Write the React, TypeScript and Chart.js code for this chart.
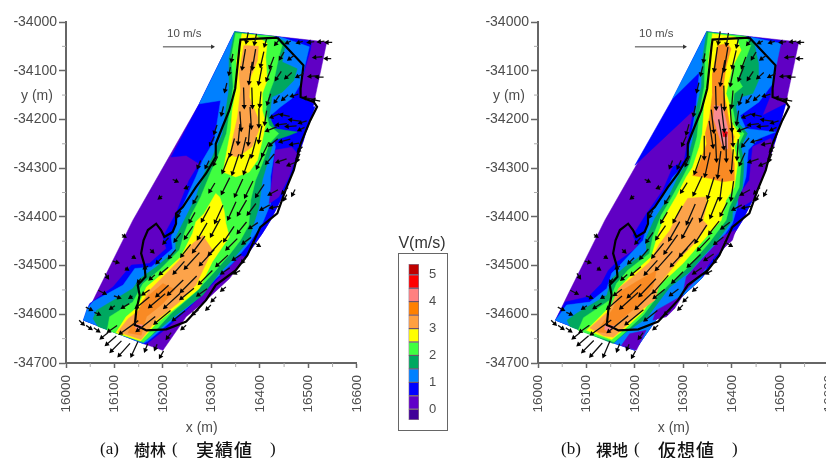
import React, { useEffect, useRef } from "react";
import { Chart, registerables } from "chart.js";
Chart.register(...registerables);

type P = [number, number];

const xTicks = [16000, 16100, 16200, 16300, 16400, 16500, 16600];
const yTicks = [-34000, -34100, -34200, -34300, -34400, -34500, -34600, -34700];
const xMinor = [16050, 16150, 16250, 16350, 16450, 16550];
const yMinor = [-34050, -34150, -34250, -34350, -34450, -34550, -34650];

const VIOLET = "#6000c4", BLUE = "#0000ff", AZURE = "#0080ff", GREEN = "#00a860", LIME = "#40ff40",
  YELLOW = "#ffff00", LORANGE = "#fca34a", ORANGE = "#f98a24", PINK = "#f88a90", RED = "#e80010";

const domain: P[] = [[16348,-34020],[16538,-34041],[16511,-34168],[16490,-34243],[16466,-34311],[16446,-34359],[16422,-34407],[16405,-34434],[16371,-34482],[16337,-34527],[16289,-34571],[16248,-34605],[16200,-34674],[16159,-34660],[16036,-34612],[16063,-34557],[16138,-34407],[16193,-34311],[16275,-34168]];

const bank: P[] = [[16436,-34032],[16360,-34036],[16358,-34051],[16349,-34137],[16337,-34181],[16323,-34215],[16309,-34250],[16309,-34277],[16289,-34311],[16268,-34339],[16241,-34380],[16227,-34393],[16227,-34414],[16220,-34431],[16203,-34441],[16196,-34427],[16186,-34414],[16169,-34427],[16160,-34448],[16155,-34475],[16162,-34499],[16164,-34523],[16148,-34540],[16152,-34561],[16145,-34592],[16142,-34622],[16152,-34626],[16166,-34633],[16207,-34631],[16248,-34615],[16289,-34571],[16309,-34540],[16350,-34510],[16374,-34479],[16401,-34421],[16436,-34393],[16453,-34345],[16470,-34304],[16484,-34250],[16504,-34202],[16518,-34174],[16511,-34164],[16484,-34154],[16484,-34137],[16490,-34089],[16436,-34032]];

// (a) forest
const aBlue: P[] = [[16348,-34020],[16275,-34168],[16217,-34277],[16248,-34274],[16275,-34291],[16254,-34325],[16227,-34393],[16200,-34441],[16207,-34465],[16172,-34496],[16135,-34499],[16097,-34544],[16049,-34578],[16044,-34588],[16036,-34612],[16159,-34660],[16166,-34661],[16207,-34629],[16248,-34592],[16289,-34551],[16330,-34510],[16360,-34479],[16371,-34482],[16405,-34434],[16422,-34407],[16446,-34359],[16466,-34311],[16490,-34243],[16511,-34168],[16484,-34154],[16484,-34127],[16504,-34058],[16507,-34039]];
const aAzure: P[] = [[16348,-34020],[16275,-34168],[16319,-34161],[16306,-34243],[16282,-34284],[16268,-34318],[16237,-34386],[16217,-34441],[16220,-34465],[16176,-34503],[16142,-34506],[16118,-34540],[16056,-34574],[16044,-34588],[16036,-34612],[16159,-34660],[16169,-34655],[16220,-34612],[16268,-34571],[16309,-34527],[16343,-34496],[16377,-34455],[16405,-34414],[16422,-34373],[16422,-34318],[16432,-34256],[16425,-34222],[16422,-34192],[16443,-34174],[16466,-34157],[16484,-34127],[16502,-34051],[16446,-34032]];
const aPatchViolet: P[] = [[16432,-34263],[16466,-34257],[16477,-34270],[16460,-34318],[16439,-34359],[16419,-34373],[16425,-34325]];
const aPatchBlue: P[] = [[16460,-34171],[16514,-34174],[16497,-34222],[16466,-34219],[16432,-34202]];
const aGreen: P[] = [[16348,-34020],[16337,-34072],[16337,-34133],[16330,-34181],[16323,-34229],[16302,-34277],[16285,-34311],[16268,-34359],[16244,-34407],[16227,-34441],[16227,-34468],[16186,-34503],[16152,-34527],[16138,-34547],[16063,-34592],[16056,-34609],[16066,-34625],[16159,-34658],[16186,-34636],[16227,-34602],[16282,-34561],[16316,-34516],[16343,-34489],[16377,-34448],[16398,-34380],[16405,-34325],[16419,-34277],[16429,-34243],[16460,-34233],[16477,-34226],[16432,-34219],[16419,-34195],[16425,-34154],[16446,-34144],[16470,-34120],[16477,-34096],[16446,-34082],[16453,-34041],[16436,-34032]];
const aLime: P[] = [[16350,-34023],[16341,-34072],[16345,-34133],[16338,-34181],[16331,-34229],[16313,-34277],[16299,-34308],[16278,-34359],[16258,-34397],[16244,-34434],[16234,-34468],[16193,-34509],[16159,-34537],[16138,-34575],[16090,-34605],[16085,-34633],[16160,-34657],[16176,-34643],[16217,-34598],[16268,-34554],[16306,-34513],[16337,-34478],[16360,-34448],[16377,-34417],[16381,-34366],[16391,-34325],[16405,-34291],[16419,-34250],[16439,-34229],[16419,-34212],[16412,-34181],[16419,-34147],[16429,-34120],[16439,-34072],[16446,-34048],[16429,-34029]];
const aYellowUp: P[] = [[16363,-34024],[16352,-34079],[16352,-34133],[16343,-34181],[16340,-34222],[16331,-34270],[16324,-34308],[16350,-34318],[16378,-34308],[16395,-34284],[16405,-34243],[16412,-34209],[16405,-34181],[16405,-34147],[16415,-34120],[16412,-34072],[16415,-34044],[16391,-34027]];
const aYellowLow: P[] = [[16309,-34352],[16285,-34393],[16268,-34410],[16261,-34434],[16237,-34482],[16200,-34516],[16166,-34544],[16148,-34585],[16124,-34605],[16103,-34638],[16154,-34655],[16186,-34619],[16234,-34581],[16275,-34547],[16302,-34492],[16337,-34441],[16330,-34414],[16326,-34386],[16317,-34359]];
const aOrangeUp: P[] = [[16367,-34048],[16357,-34106],[16360,-34140],[16354,-34195],[16343,-34243],[16340,-34274],[16354,-34277],[16384,-34256],[16398,-34222],[16395,-34195],[16378,-34154],[16381,-34113],[16395,-34079],[16397,-34050]];
const aOrangeLow: P[] = [[16282,-34438],[16261,-34455],[16234,-34489],[16200,-34523],[16169,-34554],[16152,-34591],[16128,-34609],[16107,-34636],[16155,-34652],[16186,-34612],[16234,-34575],[16268,-34540],[16302,-34468]];
const aDeep: P[] = [[16200,-34537],[16225,-34549],[16200,-34578],[16166,-34605],[16155,-34643],[16128,-34638],[16142,-34609],[16159,-34571]];
const aPink: P[] = [[16142,-34620],[16159,-34622],[16152,-34631],[16144,-34629]];

// (b) bare ground
const bBlue: P[] = [[16348,-34020],[16278,-34157],[16200,-34294],[16321,-34181],[16309,-34243],[16302,-34284],[16278,-34298],[16258,-34345],[16224,-34393],[16196,-34438],[16207,-34462],[16162,-34493],[16145,-34510],[16131,-34537],[16104,-34564],[16056,-34575],[16036,-34612],[16159,-34660],[16200,-34674],[16248,-34605],[16289,-34571],[16337,-34527],[16371,-34482],[16405,-34434],[16422,-34407],[16446,-34359],[16466,-34311],[16490,-34243],[16511,-34168],[16463,-34192],[16480,-34150],[16487,-34085],[16504,-34039]];
const bAzure: P[] = [[16348,-34020],[16278,-34157],[16333,-34103],[16326,-34174],[16316,-34236],[16306,-34291],[16278,-34318],[16258,-34359],[16231,-34393],[16217,-34448],[16169,-34499],[16152,-34516],[16142,-34547],[16107,-34575],[16059,-34581],[16036,-34612],[16159,-34660],[16172,-34664],[16200,-34674],[16248,-34605],[16289,-34571],[16337,-34527],[16367,-34462],[16401,-34414],[16415,-34366],[16429,-34318],[16434,-34263],[16456,-34239],[16490,-34226],[16429,-34219],[16417,-34192],[16456,-34164],[16484,-34127],[16501,-34044],[16443,-34032]];
const bPatch1: P[] = [[16443,-34256],[16480,-34239],[16487,-34253],[16466,-34311],[16443,-34366],[16415,-34383],[16412,-34359],[16436,-34325]];
const bPatch2: P[] = [[16343,-34482],[16384,-34438],[16408,-34427],[16401,-34448],[16364,-34482],[16333,-34523],[16299,-34557],[16306,-34523]];
const bPatch3: P[] = [[16244,-34592],[16299,-34561],[16282,-34588],[16265,-34605],[16237,-34612]];
const bPatch4: P[] = [[16172,-34664],[16189,-34640],[16223,-34633],[16203,-34674]];
const bGreen: P[] = [[16348,-34020],[16340,-34072],[16337,-34133],[16326,-34181],[16319,-34243],[16306,-34291],[16289,-34318],[16268,-34362],[16241,-34403],[16224,-34441],[16224,-34472],[16179,-34503],[16152,-34527],[16142,-34561],[16080,-34598],[16060,-34612],[16066,-34625],[16155,-34660],[16183,-34636],[16224,-34608],[16272,-34544],[16313,-34513],[16340,-34482],[16371,-34448],[16401,-34407],[16401,-34393],[16422,-34339],[16425,-34291],[16419,-34256],[16432,-34229],[16415,-34209],[16408,-34174],[16419,-34154],[16443,-34147],[16455,-34120],[16455,-34085],[16446,-34044],[16436,-34032]];
const bLime: P[] = [[16352,-34022],[16345,-34072],[16343,-34133],[16334,-34181],[16328,-34236],[16313,-34291],[16299,-34318],[16275,-34362],[16254,-34397],[16237,-34441],[16230,-34475],[16186,-34509],[16162,-34537],[16148,-34571],[16094,-34607],[16083,-34633],[16157,-34657],[16176,-34640],[16217,-34602],[16248,-34561],[16272,-34537],[16306,-34507],[16333,-34476],[16354,-34452],[16388,-34407],[16395,-34380],[16415,-34339],[16419,-34291],[16412,-34256],[16425,-34229],[16408,-34212],[16401,-34174],[16405,-34147],[16422,-34133],[16412,-34116],[16425,-34085],[16439,-34048],[16429,-34029]];
const bYellow: P[] = [[16360,-34024],[16352,-34079],[16350,-34133],[16343,-34168],[16339,-34229],[16333,-34256],[16319,-34298],[16306,-34318],[16285,-34359],[16261,-34400],[16248,-34434],[16234,-34482],[16196,-34516],[16169,-34544],[16155,-34578],[16100,-34633],[16152,-34652],[16179,-34630],[16217,-34595],[16251,-34540],[16299,-34496],[16326,-34465],[16354,-34434],[16378,-34407],[16388,-34366],[16405,-34339],[16412,-34291],[16405,-34256],[16417,-34233],[16401,-34209],[16395,-34168],[16388,-34147],[16401,-34092],[16419,-34058],[16408,-34031]];
const bOrangeUp: P[] = [[16371,-34048],[16360,-34106],[16360,-34147],[16354,-34195],[16345,-34229],[16348,-34250],[16333,-34291],[16319,-34315],[16354,-34321],[16381,-34328],[16405,-34325],[16405,-34291],[16398,-34256],[16405,-34236],[16395,-34209],[16388,-34168],[16381,-34140],[16388,-34092],[16398,-34055],[16391,-34044]];
const bOrangeLow: P[] = [[16309,-34362],[16285,-34400],[16272,-34428],[16251,-34455],[16230,-34493],[16196,-34523],[16166,-34547],[16148,-34591],[16107,-34628],[16135,-34644],[16155,-34647],[16179,-34626],[16217,-34588],[16241,-34571],[16251,-34537],[16265,-34520],[16299,-34479],[16326,-34451],[16350,-34417],[16340,-34407],[16347,-34380],[16347,-34359]];
const bDeep: P[] = [[16203,-34533],[16244,-34510],[16237,-34544],[16217,-34575],[16169,-34612],[16148,-34639],[16121,-34636],[16155,-34588],[16169,-34554]];
const bPinkUp: P[] = [[16364,-34171],[16381,-34174],[16391,-34215],[16391,-34260],[16382,-34260],[16371,-34226],[16362,-34198]];
const bPinkLow: P[] = [[16138,-34622],[16159,-34624],[16148,-34636],[16137,-34631]];
const bRed: P[] = [[16381,-34224],[16391,-34226],[16389,-34236],[16382,-34235]];

const layersA: [P[], string][] = [[domain, VIOLET],[aBlue, BLUE],[aAzure, AZURE],[aPatchViolet, VIOLET],[aPatchBlue, BLUE],[aGreen, GREEN],[aLime, LIME],[aYellowUp, YELLOW],[aYellowLow, YELLOW],[aOrangeUp, LORANGE],[aOrangeLow, LORANGE],[aDeep, ORANGE],[aPink, PINK]];
const layersB: [P[], string][] = [[domain, VIOLET],[bBlue, BLUE],[bAzure, AZURE],[bPatch1, VIOLET],[bPatch2, VIOLET],[bPatch3, VIOLET],[bPatch4, VIOLET],[bGreen, GREEN],[bLime, LIME],[bYellow, YELLOW],[bOrangeUp, ORANGE],[bOrangeLow, LORANGE],[bDeep, ORANGE],[bPinkUp, PINK],[bPinkLow, PINK],[bRed, RED]];

// x, y, u and v in forest case, u and v in bare-ground case
const vectorsUpper: number[][] = [
[16374,-34031,-.3,-1.5,-.3,-1.8],[16391,-34034,-.3,-1.5,-.3,-1.8],[16412,-34041,-.3,-1,-.3,-1.3],[16436,-34041,-.5,-.6,-.5,-.6],[16460,-34041,-.6,-.3,-.6,-.3],[16484,-34041,-.7,-.2,-.7,-.2],[16507,-34041,-.8,-.1,-.8,-.1],[16528,-34040,-.8,-.1,-.8,-.1],[16544,-34042,-.8,0,-.8,0],
[16343,-34072,-.2,-1,-.2,-1.2],[16367,-34075,-.5,-3,-.5,-3.6],[16388,-34075,-.5,-3,-.6,-3.6],[16405,-34075,-.5,-2.2,-.6,-2.6],[16425,-34082,-.6,-1.6,-.6,-1.6],[16446,-34068,-.6,-1,-.6,-1],[16466,-34072,-.8,-.6,-.8,-.6],[16521,-34072,-1.2,-.1,-1.2,-.1],[16542,-34075,-.8,0,-.8,0],
[16338,-34099,-.2,-1,-.3,-1.2],[16381,-34103,-.5,-3.3,-.7,-3.8],[16401,-34109,-.5,-2.5,-.6,-3],[16419,-34106,-.7,-1.8,-.7,-1.8],[16439,-34109,-.8,-1.2,-.8,-1.2],[16460,-34109,-.9,-.8,-.9,-.8],[16484,-34109,-1,-.5,-1,-.5],[16511,-34111,-1.2,-.1,-1.2,-.1],[16525,-34113,-1,0,-1,0],
[16330,-34133,-.3,-1.2,-.3,-1.3],[16367,-34154,.1,-3,.1,-3.5],[16384,-34154,.1,-3,.1,-3.6],[16401,-34157,-.2,-2.2,-.2,-2.5],[16419,-34157,-.5,-1.5,-.5,-1.5],[16436,-34157,-.7,-1,-.7,-1],[16453,-34154,-.8,-.7,-.8,-.7],[16473,-34150,-1,-.3,-1,-.3],[16501,-34157,-1.2,.2,-1.2,.2],[16518,-34161,-1,.2,-1,.2],
[16323,-34181,-.3,-1.2,-.3,-1.4],[16360,-34202,.2,-2.8,.4,-3.4],[16381,-34195,.2,-3.2,.5,-4.2],[16398,-34195,0,-2.8,.3,-4],[16412,-34195,-.3,-2,-.3,-2],[16432,-34192,-1.2,-.5,-1.2,-.5],[16453,-34192,-1.3,.3,-1.3,.3],[16473,-34202,-1.5,.2,-1.5,.2],[16490,-34205,-1,-.3,-1,-.3],
[16309,-34219,-.4,-1.2,-.4,-1.4],[16357,-34229,-.3,-3,.6,-4],[16378,-34229,-.3,-3.2,.8,-4.5],[16401,-34229,-.5,-2.5,.2,-3.5],[16425,-34219,-1.5,-.6,-1.5,-.6],[16446,-34210,-1.5,-.2,-1.5,-.2],[16466,-34214,-1.5,-.1,-1.5,-.1],[16487,-34219,-.8,-.4,-.8,-.4],
[16302,-34243,-.6,-1.2,-.6,-1.3],[16343,-34256,-.7,-2.6,0,-3.5],[16367,-34256,-.7,-3,.2,-4.2],[16388,-34256,-.8,-3,.1,-4.2],[16412,-34260,-1,-2,-.2,-3],[16429,-34246,-1.2,-1,-1,-1.2],[16453,-34243,-1.5,-.4,-1.5,-.4],[16473,-34250,-1.2,-.2,-1.2,-.2],[16484,-34260,-.6,-.6,-.6,-.6],
[16275,-34291,-.4,-1,-.4,-1],[16292,-34291,-.5,-1,-.5,-1.1],[16309,-34284,-.6,-1.2,-.6,-1.4],[16330,-34291,-1,-2.5,-1,-2.8],[16350,-34291,-1,-3,-.8,-3.6],[16374,-34291,-1,-2.8,-.5,-4],[16401,-34284,-1,-2.2,-.3,-3.5],[16422,-34280,-1.2,-1.4,-.8,-1.8],[16446,-34284,-1.4,-.5,-1.4,-.5],[16466,-34291,-1,-.4,-1,-.4],[16480,-34277,-.4,-1,-.4,-1],
[16224,-34325,.6,-.3,.6,-.3],[16251,-34339,-.5,-.2,-.5,-.2],[16302,-34339,-.8,-1.3,-.9,-1.4],[16330,-34335,-1.2,-2.4,-1.3,-2.8],[16357,-34339,-1.2,-2.6,-1,-3.2],[16378,-34342,-1.2,-2.4,-.4,-3.2],[16401,-34345,-1.2,-1.8,-.4,-2.8],[16429,-34349,-1.3,-.7,-1.3,-.7],[16453,-34345,-.8,-.8,-.8,-.8],[16470,-34349,-.4,-.8,-.4,-.8],[16268,-34363,-.6,-1,-.7,-1.1],
[16196,-34359,-.4,-.3,-.4,-.3],[16234,-34393,-.5,-.8,-.5,-.9],[16261,-34400,-.8,-1.4,-.9,-1.5],[16289,-34393,-1.2,-2.2,-1.3,-2.4],[16316,-34393,-1.2,-2.6,-1.3,-3],[16343,-34386,-1.2,-2.6,-1.2,-3.2],[16364,-34380,-1.3,-2.2,-1.2,-3],[16384,-34383,-1.2,-1.6,-1,-1.9],[16412,-34380,-1.3,-.7,-1.3,-.7],[16432,-34380,-1.2,-.2,-1.2,-.2],[16453,-34359,-.4,-.7,-.4,-.7],
];
const vectorsLower: number[][] = [
[16118,-34438,.4,-.3,.4,-.3],[16176,-34469,.4,-.4,.4,-.4],[16207,-34448,-.7,-.8,-.7,-.8],[16231,-34441,-.9,-1.2,-1,-1.4],[16254,-34431,-1.2,-1.8,-1.4,-2],[16282,-34428,-1.4,-2.4,-1.6,-2.8],[16309,-34421,-1.4,-2.6,-1.6,-3],[16337,-34434,-1.5,-2.2,-1.7,-2.6],[16364,-34421,-1.3,-1.6,-1.5,-1.9],[16388,-34417,-1.2,-.8,-1.2,-.9],
[16101,-34492,.7,-.2,.7,-.2],[16138,-34482,.3,-.2,.3,-.2],[16166,-34503,-.5,-.3,-.5,-.3],[16193,-34489,-.7,-.7,-.8,-.8],[16220,-34475,-1,-1.2,-1.2,-1.4],[16248,-34468,-1.4,-1.8,-1.7,-2.1],[16275,-34455,-1.8,-2.4,-2,-2.8],[16309,-34462,-2,-2.2,-2.3,-2.6],[16343,-34455,-1.6,-1.6,-1.8,-1.9],[16374,-34448,-1.2,-.9,-1.3,-1],[16391,-34455,1,-.6,1,-.6],
[16083,-34520,.4,-.6,.4,-.6],[16124,-34506,.3,-.2,.3,-.2],[16152,-34530,-.4,-.5,-.4,-.5],[16179,-34523,-.7,-.6,-.8,-.7],[16203,-34510,-1.2,-1,-1.4,-1.2],[16234,-34503,-1.6,-1.8,-1.9,-2.1],[16261,-34489,-2.2,-2.4,-2.5,-2.8],[16292,-34482,-2.2,-2.4,-2.5,-2.7],[16323,-34489,-1.7,-1.6,-1.9,-1.8],[16354,-34482,-1.2,-.8,-1.3,-.9],[16367,-34489,-.4,-.5,-.4,-.5],
[16073,-34554,1,-.5,1,-.5],[16104,-34564,.8,-.3,.8,-.3],[16135,-34564,-.3,-.2,-.3,-.2],[16166,-34554,-1,-.7,-1.1,-.8],[16200,-34551,-1.8,-1.6,-2,-1.9],[16227,-34544,-2.3,-2.2,-2.5,-2.6],[16254,-34537,-2.4,-2.4,-2.3,-2.6],[16289,-34523,-2,-2,-1.6,-1.6],[16330,-34510,-1.2,-.8,-1.2,-.8],[16354,-34513,-.8,-.4,-.8,-.4],
[16046,-34588,.8,-.4,.8,-.4],[16063,-34598,.7,-.3,.7,-.3],[16097,-34585,-.6,-.4,-.6,-.4],[16124,-34582,-1,-.6,-1.1,-.7],[16159,-34575,-2,-1.6,-2.2,-1.9],[16189,-34571,-2.4,-2,-2.7,-2.4],[16220,-34571,-2.4,-2.2,-2.6,-2.5],[16251,-34557,-2,-1.6,-1.6,-1.3],[16282,-34554,-1.4,-1,-1.2,-.9],[16306,-34568,-.6,-.6,-.6,-.6],[16326,-34547,-.6,-.5,-.6,-.5],
[16097,-34629,-1.3,-.9,-1.4,-1],[16131,-34626,-2.8,-2,-3.1,-2.2],[16166,-34619,-2.8,-2.2,-3.1,-2.5],[16200,-34605,-2.4,-2,-2.7,-2.2],[16234,-34602,-1.8,-1.4,-1.9,-1.5],[16268,-34595,-.8,-.6,-.8,-.6],[16295,-34585,-.6,-.6,-.6,-.6],[16213,-34643,-.6,-.8,-.6,-.8],[16244,-34626,-.6,-.5,-.6,-.5],
[16031,-34616,.6,-.6,.6,-.6],[16046,-34626,.7,-.5,.7,-.5],[16062,-34631,.7,-.5,.7,-.5],[16080,-34643,-1,-.8,-1,-.8],[16094,-34653,-1.5,-1.3,-1.6,-1.4],[16104,-34665,-1.6,-1.6,-1.7,-1.7],[16121,-34672,-1.7,-1.9,-1.8,-2],[16142,-34670,-1,-2.2,-1,-2.3],[16166,-34667,-.4,-1,-.4,-1],[16186,-34666,-.3,-.7,-.3,-.7],[16198,-34681,-.5,-.9,-.5,-.9],
];
const metresPerSpeed = 13;
const refArrowStart: P = [16200, -34051];
const refArrowEnd: P = [16302, -34051];

const legendBounds = [-0.4, 0, 0.5, 1, 1.5, 2, 2.5, 3, 3.5, 4, 4.5, 5, 5.4];
const legendColors = ["#400098", "#6000c8", "#0000ff", "#0080ff", "#00a860", "#40ff40", "#ffff00", "#ffa040", "#ff8000", "#ff8080", "#ff0000", "#c00000"];
const legendTicks = [0, 1, 2, 3, 4, 5];

const SANS = "'Liberation Sans', Arial, sans-serif";
const AXIS = "#666666";
const TEXT = "#4c4c4c";

const annotate = {
  id: "annotate",
  afterDraw(chart: any) {
    const { ctx, scales: { x, y }, chartArea: a } = chart;
    ctx.save();
    ctx.strokeStyle = "#aaaaaa"; ctx.lineWidth = 1;
    ctx.beginPath();
    xMinor.forEach((v) => { const p = x.getPixelForValue(v); ctx.moveTo(p, a.bottom); ctx.lineTo(p, a.bottom + 4); });
    yMinor.forEach((v) => { const p = y.getPixelForValue(v); ctx.moveTo(a.left, p); ctx.lineTo(a.left - 4, p); });
    ctx.stroke();
    ctx.fillStyle = TEXT; ctx.textAlign = "center"; ctx.textBaseline = "middle";
    ctx.font = `14px ${SANS}`;
    ctx.fillText("y (m)", a.left - 29, y.getPixelForValue(-34153));
    ctx.fillText("x (m)", x.getPixelForValue(16280), a.bottom + 65);
    ctx.font = `11.5px ${SANS}`;
    ctx.fillText("10 m/s", x.getPixelForValue(16244), y.getPixelForValue(-34024));
    ctx.restore();
  },
};

function buildField(pick: (r: number[]) => [number, number]) {
  const shafts: any[] = [], heads: any[] = [], rots: number[] = [];
  [...vectorsUpper, ...vectorsLower].forEach((r) => {
    const [u, v] = pick(r);
    const dx = (u * metresPerSpeed) / 2, dy = (v * metresPerSpeed) / 2;
    shafts.push({ x: r[0] - dx, y: r[1] - dy }, { x: r[0] + dx, y: r[1] + dy }, { x: null, y: null });
    heads.push({ x: r[0] + dx, y: r[1] + dy });
    rots.push((Math.atan2(u, v) * 180) / Math.PI);
  });
  return { shafts, heads, rots };
}

function plotConfig(layers: [P[], string][], pick: (r: number[]) => [number, number]): any {
  const f = buildField(pick);
  const datasets: any[] = layers.map(([pts, c]) => ({
    type: "scatter",
    data: [...pts, pts[0]].map(([x, y]) => ({ x, y })),
    showLine: true, fill: "shape", backgroundColor: c, borderColor: c, borderWidth: 0.5, pointRadius: 0, tension: 0,
  }));
  datasets.push({ type: "scatter", data: bank.map(([x, y]) => ({ x, y })), showLine: true, fill: false, borderColor: "#000", borderWidth: 2.2, pointRadius: 0 });
  datasets.push({ type: "scatter", data: f.shafts, showLine: true, fill: false, spanGaps: false, borderColor: "#111", borderWidth: 1.3, pointRadius: 0 });
  datasets.push({ type: "scatter", data: f.heads, showLine: false, pointStyle: "triangle", pointRadius: 3, pointBorderWidth: 0, pointBackgroundColor: "#000", pointRotation: f.rots });
  datasets.push({ type: "scatter", data: [refArrowStart, refArrowEnd].map(([x, y]) => ({ x, y })), showLine: true, fill: false, borderColor: "#444", borderWidth: 1, pointRadius: 0 });
  datasets.push({ type: "scatter", data: [{ x: refArrowEnd[0], y: refArrowEnd[1] }], showLine: false, pointStyle: "triangle", pointRadius: 2.6, pointBorderWidth: 0, pointBackgroundColor: "#333", pointRotation: 90 });
  datasets.forEach((d, i) => { d.order = -i; });
  return {
    type: "scatter",
    data: { datasets },
    plugins: [annotate],
    options: {
      animation: false, responsive: false,
      layout: { autoPadding: false, padding: { left: 0, right: 22, top: 22, bottom: 0 } },
      plugins: { legend: { display: false }, tooltip: { enabled: false }, title: { display: false } },
      scales: {
        x: {
          type: "linear", min: 16000, max: 16600, afterBuildTicks: (s: any) => { s.ticks = xTicks.map((value) => ({ value })); },
          afterFit: (s: any) => { s.height = 95; },
          border: { color: AXIS, width: 2 },
          grid: { drawOnChartArea: false, drawTicks: true, tickLength: 5, tickColor: AXIS, tickWidth: 1.5 },
          ticks: { color: TEXT, font: { family: SANS, size: 13.5 }, minRotation: 90, maxRotation: 90, padding: 7, autoSkip: false, callback: (v: number) => String(v) },
        },
        y: {
          type: "linear", min: -34700, max: -34000, afterBuildTicks: (s: any) => { s.ticks = yTicks.map((value) => ({ value })); },
          afterFit: (s: any) => { s.width = 66; },
          border: { color: AXIS, width: 2 },
          grid: { drawOnChartArea: false, drawTicks: true, tickLength: 7, tickColor: AXIS, tickWidth: 1.5 },
          ticks: { color: TEXT, font: { family: SANS, size: 14 }, padding: 2, autoSkip: false, callback: (v: number) => String(v) },
        },
      },
    },
  };
}

function legendConfig(): any {
  return {
    type: "bar",
    data: {
      labels: ["V"],
      datasets: legendColors.map((c, i) => ({ data: [[legendBounds[i], legendBounds[i + 1]]], backgroundColor: c, borderColor: "rgba(40,0,40,0.55)", borderWidth: 1, borderSkipped: false, grouped: false, barPercentage: 1, categoryPercentage: 1 })),
    },
    options: {
      animation: false, responsive: false,
      layout: { autoPadding: false, padding: { left: 23.5, right: 0, top: 24, bottom: 20 } },
      plugins: { legend: { display: false }, tooltip: { enabled: false } },
      scales: {
        x: { display: false },
        y: {
          position: "right", min: legendBounds[0], max: legendBounds[legendBounds.length - 1],
          afterBuildTicks: (s: any) => { s.ticks = legendTicks.map((value) => ({ value })); },
          afterFit: (s: any) => { s.width = 41; },
          border: { display: false }, grid: { display: false, drawTicks: false },
          ticks: { color: TEXT, font: { family: SANS, size: 13 }, padding: 10, autoSkip: false },
        },
      },
    },
  };
}

const abs = (left: number, top: number, extra: any = {}): any => ({ position: "absolute", left, top, ...extra });
const CJK = "'Noto Sans CJK JP', sans-serif";
const SERIF = "'Liberation Serif', serif";

function Caption({ left, tag, a, b, gap }: { left: number; tag: string; a: string; b: string; gap: number }) {
  const base: any = { position: "absolute", top: 0, color: "#111", whiteSpace: "pre", lineHeight: "20px" };
  return (
    <div style={abs(left, 439, { width: 200, height: 20 })}>
      <span style={{ ...base, left: 0, fontFamily: SERIF, fontSize: 17 }}>{tag}</span>
      <span style={{ ...base, left: gap, fontFamily: CJK, fontSize: 16, fontWeight: 500 }}>{a}</span>
      <span style={{ ...base, left: gap + 38, fontFamily: SERIF, fontSize: 17 }}>(</span>
      <span style={{ ...base, left: gap + 62, fontFamily: CJK, fontSize: 18, letterSpacing: 1, fontWeight: 500 }}>{b}</span>
      <span style={{ ...base, left: gap + 136, fontFamily: SERIF, fontSize: 17 }}>)</span>
    </div>
  );
}

export default function App() {
  const leftRef = useRef<HTMLCanvasElement>(null);
  const rightRef = useRef<HTMLCanvasElement>(null);
  const legendRef = useRef<HTMLCanvasElement>(null);
  useEffect(() => {
    const charts = [
      new Chart(leftRef.current!, plotConfig(layersA, (r) => [r[2], r[3]])),
      new Chart(rightRef.current!, plotConfig(layersB, (r) => [r[4], r[5]])),
      new Chart(legendRef.current!, legendConfig()),
    ];
    return () => charts.forEach((c) => c.destroy());
  }, []);
  const soft = "blur(0.45px)";
  return (
    <div style={{ position: "absolute", left: 0, top: 0, width: 826, height: 458, overflow: "hidden", background: "#fff" }}>
      <canvas ref={leftRef} width={380} height={458} style={abs(0, 0, { filter: soft })} />
      <canvas ref={rightRef} width={380} height={458} style={abs(472, 0, { filter: soft })} />
      <div style={abs(398, 253, { width: 48, height: 176, border: "1.5px solid #666" })} />
      <canvas ref={legendRef} width={75} height={200} style={abs(385, 240, { filter: soft })} />
      <div style={abs(380, 233, { width: 84, textAlign: "center", fontFamily: SANS, fontSize: 16, color: "#333", lineHeight: "20px" })}>V(m/s)</div>
      <Caption left={100} tag="(a)" a="樹林" b="実績値" gap={34} />
      <Caption left={561} tag="(b)" a="裸地" b="仮想値" gap={35} />
    </div>
  );
}
